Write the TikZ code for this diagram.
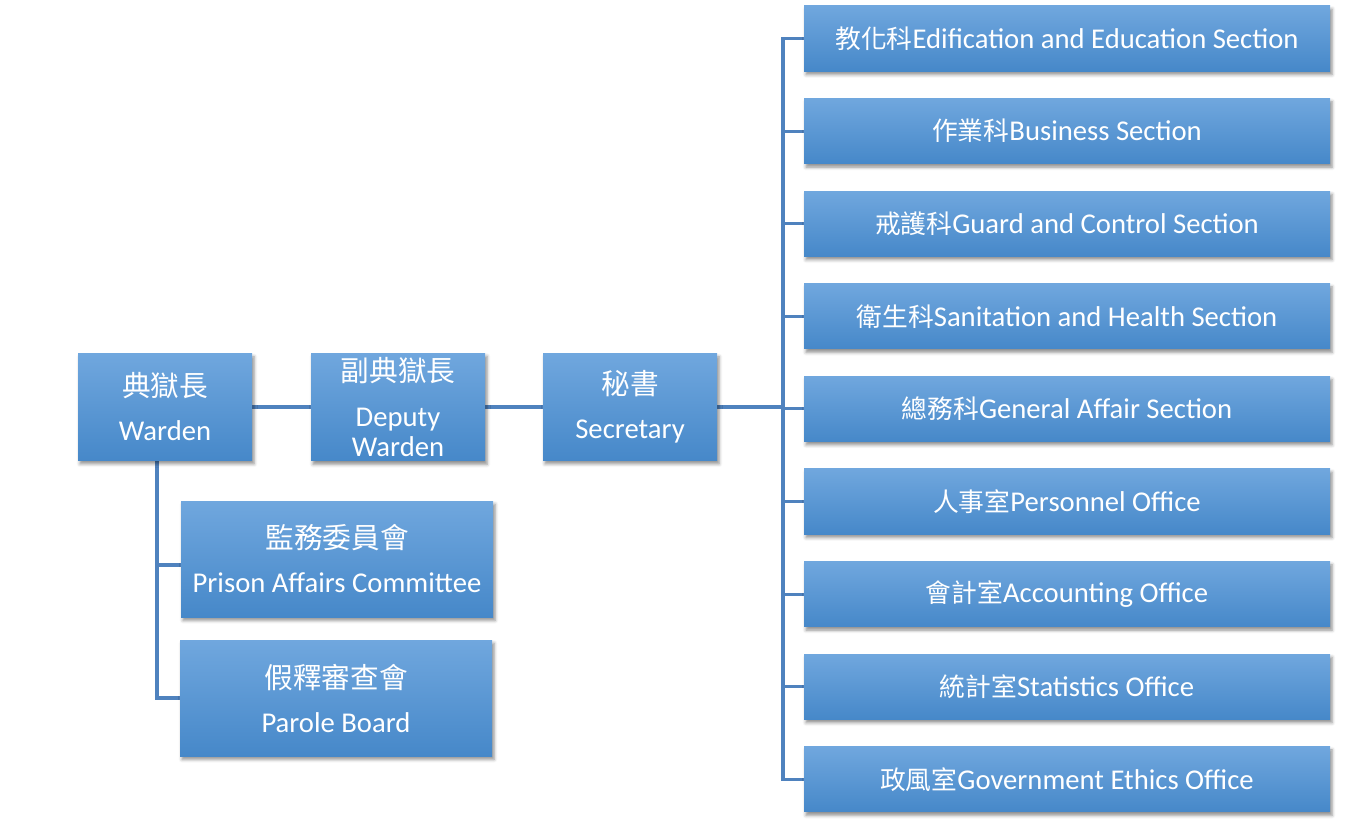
\documentclass[tikz,border=0pt]{standalone}
\usepackage{fontspec}
\setmainfont{Carlito}
\newfontfamily\cjk{Noto Sans CJK TC}
\newcommand\zh[1]{{\cjk\fontsize{19.3}{25}\selectfont #1}}
\usetikzlibrary{shadows.blur,backgrounds}

\definecolor{boxtop}{RGB}{112,167,222}
\definecolor{boxmid}{RGB}{84,151,220}
\definecolor{boxbot}{RGB}{70,136,201}
\definecolor{linkblue}{RGB}{79,130,190}

\tikzset{
	unit/.style={rectangle, text=white, align=center, top color=boxtop, middle color=boxmid, bottom color=boxbot,
		blur shadow={shadow xshift=1.5pt, shadow yshift=-2.5pt, shadow blur radius=2.5pt, shadow opacity=45}},
	head/.style={unit, minimum width=130.5pt, minimum height=80.25pt, font=\fontsize{21.5}{33}\selectfont},
	board/.style={unit, minimum width=234pt, minimum height=87pt, font=\fontsize{21.5}{33}\selectfont},
	section/.style={unit, minimum width=394.5pt, minimum height=49pt, font=\fontsize{21.5}{25}\selectfont},
	conn/.style={draw=linkblue, line width=2.3pt}
}

\begin{document}
\begin{tikzpicture}[x=0.75pt, y=-0.75pt]
	\useasboundingbox (0,0) rectangle (1350,828);

	\node[head] (warden) at (165,407) {{\cjk 典獄長}\\Warden};
	\node[head, font=\fontsize{21.5}{22.5}\selectfont] (deputy) at (398,407) {{\cjk 副典獄長}\\[11pt]Deputy\\Warden};
	\node[head] (sec) at (630,407) {{\cjk 秘書}\\Secretary};

	\node[board] (pac) at (337,559) {{\cjk 監務委員會}\\Prison Affairs Committee};
	\node[board] (parole) at (336,698) {{\cjk 假釋審查會}\\Parole Board};

	\foreach \lab [count=\i from 0] in {
		{\zh{教化科}Edification and Education Section},
		{\zh{作業科}Business Section},
		{\zh{戒護科}Guard and Control Section},
		{\zh{衛生科}Sanitation and Health Section},
		{\zh{總務科}General Affair Section},
		{\zh{人事室}Personnel Office},
		{\zh{會計室}Accounting Office},
		{\zh{統計室}Statistics Office},
		{\zh{政風室}Government Ethics Office}}
		\node[section] (s\i) at (1067,38.5+92.6*\i) {\lab};

	\coordinate (bus) at (783,407);
	\coordinate (wbus) at (157,461);

	\begin{scope}[on background layer]
		\draw[conn] (warden) -- (deputy);
		\draw[conn] (deputy) -- (sec);
		\draw[conn] (sec.east) -- (bus);
		\draw[conn] (s0.west) -| (bus |- s8.west) -- (s8.west);
		\foreach \i in {1,...,7}
			\draw[conn] (bus |- s\i.west) -- (s\i.west);
		\draw[conn] (wbus) |- ([yshift=-4.5pt]pac.west);
		\draw[conn] (wbus) |- (parole.west);
	\end{scope}
\end{tikzpicture}
\end{document}
